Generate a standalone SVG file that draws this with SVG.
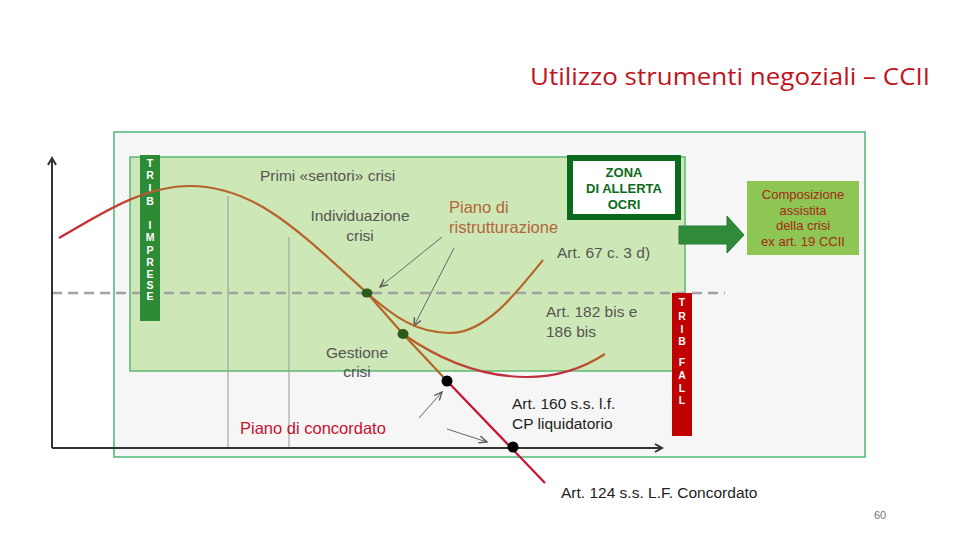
<svg xmlns="http://www.w3.org/2000/svg" width="960" height="540" viewBox="0 0 960 540">
<defs>
<style>
.t{font-family:"Liberation Sans",Arial,sans-serif;font-size:15.5px;fill:#555}
.bar{font-family:"Liberation Sans",Arial,sans-serif;font-size:10.5px;font-weight:bold;fill:#fff;text-anchor:middle}
.thin{stroke:#666;stroke-width:1;fill:none;marker-end:url(#ah)}
.axis{stroke:#333;stroke-width:2;fill:none}
</style>
<marker id="ah" viewBox="0 0 10 10" refX="9" refY="5" markerWidth="9" markerHeight="9" markerUnits="userSpaceOnUse" orient="auto"><path d="M0,1 L9,5 L0,9" fill="none" stroke="#555" stroke-width="1.5"/></marker>
<marker id="ax" viewBox="0 0 10 10" refX="8" refY="5" markerWidth="10" markerHeight="10" markerUnits="userSpaceOnUse" orient="auto"><path d="M1,1 L8,5 L1,9" fill="none" stroke="#333" stroke-width="2"/></marker>
<linearGradient id="cg" x1="59" y1="0" x2="400" y2="0" gradientUnits="userSpaceOnUse"><stop offset="0" stop-color="#c8233a"/><stop offset="0.3" stop-color="#b8602e"/><stop offset="1" stop-color="#b5652a"/></linearGradient>
<linearGradient id="lg" x1="403" y1="0" x2="605" y2="0" gradientUnits="userSpaceOnUse"><stop offset="0" stop-color="#b5652a"/><stop offset="0.45" stop-color="#c0303a"/><stop offset="0.8" stop-color="#c0303a"/><stop offset="1" stop-color="#b5652a"/></linearGradient>
</defs>
<rect width="960" height="540" fill="#fff"/>
<text x="530" y="85" font-family="'Open Sans','Liberation Sans',sans-serif" font-size="23" fill="#c0141e" textLength="400" lengthAdjust="spacingAndGlyphs">Utilizzo strumenti negoziali – CCII</text>

<g id="frame-outer"><rect x="114" y="132" width="751" height="325" fill="#f6f6f6" stroke="#4cb877" stroke-width="1.5"/></g>
<g id="zone-green"><rect x="130" y="157" width="555" height="214" fill="#cde8b6" stroke="#5cb874" stroke-width="1.5"/></g>

<g id="guides">
<line x1="228" y1="196" x2="228" y2="447" stroke="#999" stroke-width="1"/>
<line x1="289" y1="237" x2="289" y2="447" stroke="#999" stroke-width="1"/>
<line x1="52" y1="293" x2="725" y2="293" stroke="#a3a3a3" stroke-width="2.5" stroke-dasharray="10,6"/>
</g>

<g id="axes">
<line class="axis" x1="52" y1="448" x2="52" y2="158" marker-end="url(#ax)"/>
<line class="axis" x1="52" y1="448" x2="662" y2="448" marker-end="url(#ax)"/>
</g>

<g id="trib-imprese">
<rect x="140" y="155" width="20" height="166" fill="#2e8b35"/>
<text class="bar" x="150" y="167">T</text><text class="bar" x="150" y="179">R</text><text class="bar" x="150" y="192">I</text><text class="bar" x="150" y="205">B</text>
<text class="bar" x="150" y="229">I</text><text class="bar" x="150" y="241">M</text><text class="bar" x="150" y="254">P</text><text class="bar" x="150" y="266">R</text><text class="bar" x="150" y="278">E</text><text class="bar" x="150" y="289">S</text><text class="bar" x="150" y="300">E</text>
</g>

<g id="trib-fall">
<rect x="672" y="293" width="20" height="143" fill="#c00000"/>
<text class="bar" x="682" y="306">T</text><text class="bar" x="682" y="320">R</text><text class="bar" x="682" y="333">I</text><text class="bar" x="682" y="345">B</text>
<text class="bar" x="682" y="366">F</text><text class="bar" x="682" y="379">A</text><text class="bar" x="682" y="392">L</text><text class="bar" x="682" y="404">L</text>
</g>

<g id="zona-allerta">
<rect x="570" y="158" width="108" height="59" fill="#fff" stroke="#0b6a1b" stroke-width="6"/>
<g font-family="'Liberation Sans',Arial,sans-serif" font-size="13" font-weight="bold" fill="#0b6a1b" text-anchor="middle">
<text x="624" y="177">ZONA</text><text x="624" y="193">DI ALLERTA</text><text x="624" y="209">OCRI</text></g>
</g>

<g id="connectors">
<path d="M679,226 H727 V216 L744,235 L727,253 V244 H679 Z" fill="#2f8a3a" stroke="#2a7a33" stroke-width="1"/>
<line class="thin" x1="442" y1="237" x2="380" y2="287"/>
<line class="thin" x1="454" y1="248" x2="414" y2="326"/>
<line class="thin" x1="419" y1="418" x2="442" y2="392"/>
<line class="thin" x1="447" y1="429" x2="487" y2="442"/>
</g>

<g id="composizione">
<rect x="747" y="181" width="112" height="74" fill="#8dc653"/>
<g font-family="'Liberation Sans',Arial,sans-serif" font-size="13" fill="#a52a18" text-anchor="middle">
<text x="803" y="199">Composizione</text><text x="803" y="215">assistita</text><text x="803" y="230">della crisi</text><text x="803" y="246">ex art. 19 CCII</text></g>
</g>

<g id="curves">
<path d="M59,238 C95,218 140,186 190,186 C255,186 300,232 367,293 L403,334 L447,381" fill="none" stroke="url(#cg)" stroke-width="2.2"/>
<path d="M367,293 C395,318 418,333 450,333 C485,333 515,295 543,260" fill="none" stroke="#b5652a" stroke-width="2.2"/>
<path d="M403,334 C440,360 480,377 527,377 C560,377 585,367 605,354" fill="none" stroke="url(#lg)" stroke-width="2.2"/>
<line x1="447" y1="381" x2="545" y2="483" stroke="#c8102e" stroke-width="2.2"/>
</g>

<g id="dots">
<ellipse cx="367" cy="293" rx="5.5" ry="4.5" fill="#2c5a1c"/>
<ellipse cx="403" cy="334" rx="5.5" ry="5" fill="#2c5a1c"/>
<circle cx="447" cy="381" r="5.5" fill="#000"/>
<circle cx="513" cy="447" r="5.5" fill="#000"/>
</g>

<g id="labels">
<text class="t" x="260" y="181">Primi «sentori» crisi</text>
<text class="t" x="360" y="221" text-anchor="middle">Individuazione</text>
<text class="t" x="360" y="241" text-anchor="middle">crisi</text>
<text class="t" x="449" y="213" style="font-size:16.5px;fill:#b5643a">Piano di</text>
<text class="t" x="449" y="233" style="font-size:16.5px;fill:#b5643a">ristrutturazione</text>
<text class="t" x="557" y="258">Art. 67 c. 3 d)</text>
<text class="t" x="546" y="317">Art. 182 bis e</text>
<text class="t" x="546" y="337">186 bis</text>
<text class="t" x="357" y="358" text-anchor="middle">Gestione</text>
<text class="t" x="357" y="377" text-anchor="middle">crisi</text>
<text class="t" x="240" y="434" style="font-size:16.5px;fill:#c8102e">Piano di concordato</text>
<text class="t" x="512" y="409" style="fill:#222">Art. 160 s.s. l.f.</text>
<text class="t" x="512" y="429" style="fill:#222">CP liquidatorio</text>
<text class="t" x="561" y="498" style="fill:#222">Art. 124 s.s. L.F. Concordato</text>
<text x="874" y="519" font-family="'Liberation Sans',Arial,sans-serif" font-size="11" fill="#777">60</text>
</g>
</svg>
